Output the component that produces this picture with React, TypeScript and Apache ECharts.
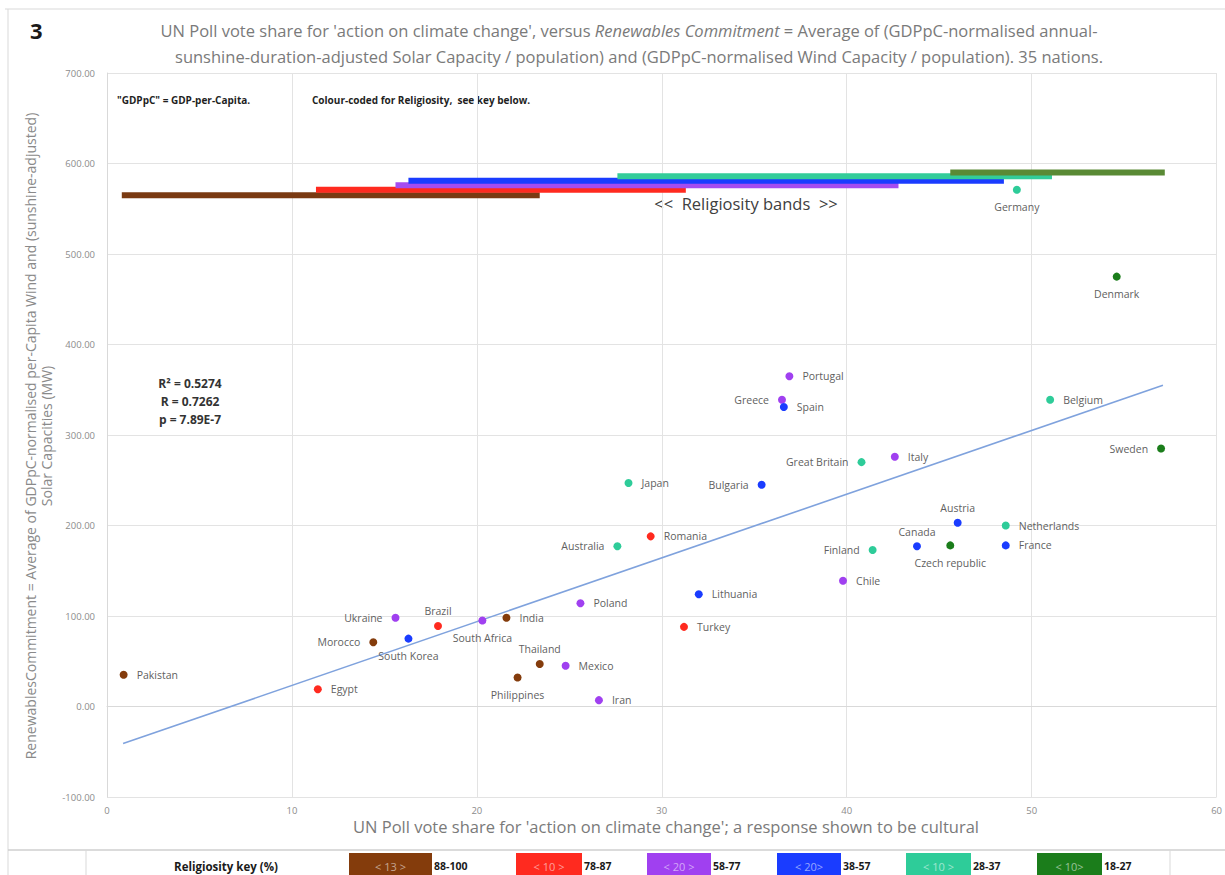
import React, { useEffect, useRef } from "react";
import * as echarts from "echarts";

// ---- Data ----
const countries = [
  "Pakistan", "Egypt", "Morocco", "Ukraine", "South Korea", "Brazil", "South Africa",
  "India", "Philippines", "Thailand", "Mexico", "Poland", "Iran", "Australia", "Japan",
  "Romania", "Turkey", "Lithuania", "Bulgaria", "Greece", "Spain", "Portugal", "Chile",
  "Great Britain", "Finland", "Italy", "Canada", "Austria", "Czech republic", "France",
  "Netherlands", "Germany", "Belgium", "Denmark", "Sweden",
];
const voteShare = [
  0.9, 11.4, 14.4, 15.6, 16.3, 17.9, 20.3,
  21.6, 22.2, 23.4, 24.8, 25.6, 26.6, 27.6, 28.2,
  29.4, 31.2, 32.0, 35.4, 36.5, 36.6, 36.9, 39.8,
  40.8, 41.4, 42.6, 43.8, 46.0, 45.6, 48.6,
  48.6, 49.2, 51.0, 54.6, 57.0,
];
const commitment = [
  35, 19, 71, 98, 75, 89, 95,
  98, 32, 47, 45, 114, 7, 177, 247,
  188, 88, 124, 245, 339, 331, 365, 139,
  270, 173, 276, 177, 203, 178, 178,
  200, 571, 339, 475, 285,
];
// index into religiosity bands (0 = 88-100 ... 5 = 18-27)
const religiosityBand = [
  0, 1, 0, 2, 3, 1, 2,
  0, 0, 0, 2, 2, 2, 4, 4,
  1, 1, 3, 3, 2, 3, 2, 2,
  4, 4, 2, 3, 3, 5, 3,
  4, 4, 4, 5, 5,
];

const bandRanges = ["88-100", "78-87", "58-77", "38-57", "28-37", "18-27"];
const bandWidthLabels = ["< 13 >", "< 10 >", "< 20 >", "< 20>", "< 10 >", "< 10>"];
const bandColors = ["#843c0c", "#ff2a1f", "#a040f0", "#1a3cff", "#2ecc99", "#1b7d1b"];
const bandLineColors = ["#7a3a12", "#ff2a1f", "#a54cf0", "#1a3cff", "#33cc99", "#5a8a35"];
// religiosity band bars (x-range in vote share, height in commitment units)
const bandFrom = [0.8, 11.3, 15.6, 16.3, 27.6, 45.6];
const bandTo = [23.4, 31.3, 42.8, 48.5, 51.1, 57.2];
const bandLevel = [565, 571, 576, 581, 586, 590];

// trend line end points
const trendX = [0.87, 57.1];
const trendY = [-41, 355];

const yMin = -100;
const yMax = 700;
const yStep = 100;
const xMin = 0;
const xMax = 60;
const xStep = 10;

const statsLines = ["R\u00b2 = 0.5274", "R = 0.7262", "p = 7.89E-7"];

// ---- Styling: label placement per country ----
const labelPlacement: Record<string, string> = {
  Morocco: "left",
  Ukraine: "left",
  "South Korea": "bottom",
  Brazil: "top",
  "South Africa": "bottom",
  Philippines: "bottom",
  Thailand: "top",
  Australia: "left",
  Bulgaria: "left",
  Greece: "left",
  "Great Britain": "left",
  Finland: "left",
  Canada: "top",
  Austria: "top",
  "Czech republic": "bottom",
  Germany: "bottom",
  Denmark: "bottom",
  Sweden: "left",
};

const FONT = "'Open Sans', 'Liberation Sans', sans-serif";

export default function App() {
  const ref = useRef<HTMLDivElement>(null);

  useEffect(() => {
    document.body.style.margin = "0";
    if (!ref.current) return;
    const chart = echarts.init(ref.current, undefined, { renderer: "svg" });

    const scatterSeries = bandRanges.map((_, b) => ({
      type: "scatter",
      name: bandRanges[b],
      symbolSize: 8,
      z: 5,
      itemStyle: { color: bandColors[b], opacity: 1 },
      label: {
        show: true,
        formatter: "{b}",
        fontSize: 10.5,
        fontFamily: FONT,
        color: "#5f5f5f",
      },
      data: countries
        .map((c, i) => ({ c, i }))
        .filter(({ i }) => religiosityBand[i] === b)
        .map(({ c, i }) => {
          const pos = labelPlacement[c] || "right";
          return {
            name: c,
            value: [voteShare[i], commitment[i]],
            label: {
              position: pos,
              distance: pos === "right" || pos === "left" ? 9 : pos === "top" ? 5 : 8,
            },
          };
        }),
    }));

    const bandSeries = bandRanges.map((_, b) => ({
      type: "line",
      name: "band" + b,
      symbol: "none",
      z: 3,
      lineStyle: { color: bandLineColors[b], width: 6 },
      data: [
        [bandFrom[b], bandLevel[b]],
        [bandTo[b], bandLevel[b]],
      ],
    }));

    const trendSeries = {
      type: "line",
      name: "trend",
      symbol: "none",
      z: 4,
      lineStyle: { color: "#7fa2dd", width: 1.6 },
      data: trendX.map((x, i) => [x, trendY[i]]),
    };

    const legendBoxX = [349, 516, 647, 777, 906, 1037];
    const legendBoxW = [83, 66, 64, 64, 65, 65];
    const legendGraphics: any[] = [];
    bandRanges.forEach((r, b) => {
      legendGraphics.push({
        type: "rect",
        shape: { x: legendBoxX[b], y: 853, width: legendBoxW[b], height: 30 },
        style: { fill: bandColors[b] },
      });
      legendGraphics.push({
        type: "text",
        style: {
          x: legendBoxX[b] + legendBoxW[b] / 2,
          y: 866,
          text: bandWidthLabels[b],
          fill: "rgba(255,255,255,0.55)",
          font: `11px ${FONT}`,
          textAlign: "center",
          textVerticalAlign: "middle",
          verticalAlign: "middle",
        },
      });
      legendGraphics.push({
        type: "text",
        style: {
          x: legendBoxX[b] + legendBoxW[b] + 2,
          y: 866,
          text: r,
          fill: "#1a1a1a",
          font: `bold 10.5px ${FONT}`,
          textAlign: "left",
          textVerticalAlign: "middle",
          verticalAlign: "middle",
        },
      });
    });

    const lineStyle = { stroke: "#d9d9d9", lineWidth: 1 };

    chart.setOption({
      animation: false,
      backgroundColor: "#ffffff",
      grid: { left: 107, right: 8, top: 73, bottom: 78, containLabel: false },
      xAxis: {
        type: "value",
        min: xMin,
        max: xMax,
        interval: xStep,
        axisLine: { show: true, onZero: true, lineStyle: { color: "#d9d9d9" } },
        axisTick: { show: false },
        axisLabel: { color: "#8c8c8c", fontSize: 9.5, fontFamily: FONT, margin: 8 },
        splitLine: { show: true, lineStyle: { color: "#e3e3e3" } },
      },
      yAxis: {
        type: "value",
        min: yMin,
        max: yMax,
        interval: yStep,
        axisLine: { show: true, lineStyle: { color: "#d9d9d9" } },
        axisTick: { show: false },
        axisLabel: {
          color: "#8c8c8c",
          fontSize: 9.5,
          fontFamily: FONT,
          margin: 12,
          formatter: (v: number) => v.toFixed(2),
        },
        splitLine: { show: true, lineStyle: { color: "#e3e3e3" } },
      },
      series: [...bandSeries, trendSeries, ...scatterSeries],
      graphic: [
        // frame
        { type: "line", shape: { x1: 5, y1: 9, x2: 1225, y2: 9 }, style: lineStyle },
        { type: "line", shape: { x1: 8, y1: 9, x2: 8, y2: 875 }, style: lineStyle },
        { type: "line", shape: { x1: 8, y1: 850, x2: 1225, y2: 850 }, style: { stroke: "#cfcfcf", lineWidth: 1.5 } },
        { type: "line", shape: { x1: 86, y1: 850, x2: 86, y2: 875 }, style: lineStyle },
        { type: "line", shape: { x1: 1170, y1: 850, x2: 1170, y2: 875 }, style: lineStyle },
        // figure number
        {
          type: "text",
          style: { x: 30, y: 30, text: "3", fill: "#1a1a1a", font: `bold 22px ${FONT}`, textAlign: "left", textVerticalAlign: "middle", verticalAlign: "middle" },
        },
        // title
        {
          type: "text",
          style: {
            x: 629,
            y: 30,
            text: "UN Poll vote share for 'action on climate change', versus {i|Renewables Commitment} = Average of (GDPpC-normalised annual-",
            fill: "#7a7a7a",
            font: `16.5px ${FONT}`,
            textAlign: "center",
            textVerticalAlign: "middle",
            verticalAlign: "middle",
            rich: { i: { fontStyle: "italic", fontSize: 16.5, fontFamily: FONT, fill: "#7a7a7a" } },
          },
        },
        {
          type: "text",
          style: {
            x: 639,
            y: 56,
            text: "sunshine-duration-adjusted Solar Capacity / population) and (GDPpC-normalised Wind Capacity / population). 35 nations.",
            fill: "#7a7a7a",
            font: `16.5px ${FONT}`,
            textAlign: "center",
            textVerticalAlign: "middle",
            verticalAlign: "middle",
          },
        },
        // y axis name
        {
          type: "text",
          x: 30,
          y: 436,
          rotation: Math.PI / 2,
          style: {
            x: 0,
            y: 0,
            text: "RenewablesCommitment = Average of GDPpC-normalised per-Capita Wind and (sunshine-adjusted)",
            fill: "#8a8a8a",
            font: `14px ${FONT}`,
            textAlign: "center",
            textVerticalAlign: "middle",
            verticalAlign: "middle",
          },
        },
        {
          type: "text",
          x: 46,
          y: 436,
          rotation: Math.PI / 2,
          style: {
            x: 0,
            y: 0,
            text: "Solar Capacities (MW)",
            fill: "#8a8a8a",
            font: `14px ${FONT}`,
            textAlign: "center",
            textVerticalAlign: "middle",
            verticalAlign: "middle",
          },
        },
        // x axis name
        {
          type: "text",
          style: {
            x: 666,
            y: 826,
            text: "UN Poll vote share for 'action on climate change'; a response shown to be cultural",
            fill: "#7a7a7a",
            font: `16.5px ${FONT}`,
            textAlign: "center",
            textVerticalAlign: "middle",
            verticalAlign: "middle",
          },
        },
        // notes
        {
          type: "text",
          style: { x: 117, y: 100, text: "\"GDPpC\" = GDP-per-Capita.", fill: "#1f1f1f", font: `bold 10px ${FONT}`, textAlign: "left", textVerticalAlign: "middle", verticalAlign: "middle" },
        },
        {
          type: "text",
          style: { x: 312, y: 100, text: "Colour-coded for Religiosity,  see key below.", fill: "#1f1f1f", font: `bold 10px ${FONT}`, textAlign: "left", textVerticalAlign: "middle", verticalAlign: "middle" },
        },
        {
          type: "text",
          style: { x: 746, y: 203, text: "<<  Religiosity bands  >>", fill: "#404040", font: `16.5px ${FONT}`, textAlign: "center", textVerticalAlign: "middle", verticalAlign: "middle" },
        },
        ...statsLines.map((t, i) => ({
          type: "text",
          style: { x: 190, y: 383 + i * 18, text: t, fill: "#333333", font: `bold 12px ${FONT}`, textAlign: "center", textVerticalAlign: "middle", verticalAlign: "middle" },
        })),
        // legend row
        {
          type: "text",
          style: { x: 226, y: 866, text: "Religiosity key (%)", fill: "#1a1a1a", font: `bold 11.5px ${FONT}`, textAlign: "center", textVerticalAlign: "middle", verticalAlign: "middle" },
        },
        ...legendGraphics,
      ],
    });

    return () => chart.dispose();
  }, []);

  return <div ref={ref} style={{ width: 1225, height: 875 }} />;
}
